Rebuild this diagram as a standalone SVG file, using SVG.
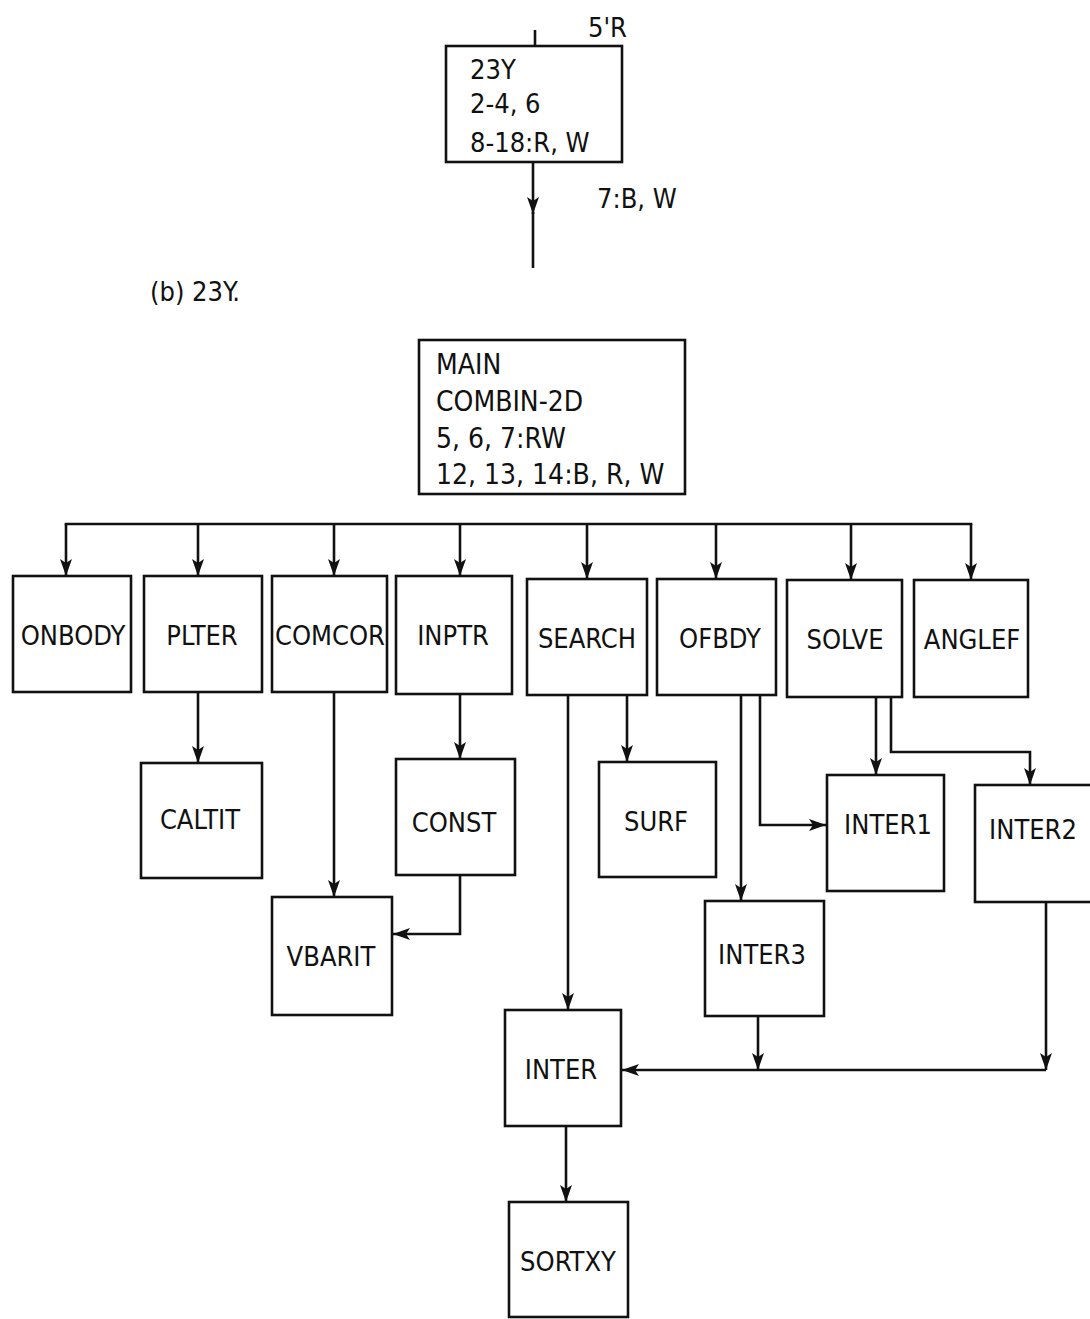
<svg xmlns="http://www.w3.org/2000/svg" width="1090" height="1319" viewBox="0 0 1090 1319">
<style>
text{font-family:"Liberation Sans Narrow","DejaVu Sans Condensed","Liberation Sans",sans-serif;font-size:27px;fill:#111}
.n rect{fill:#fff;stroke:#111;stroke-width:2.6}
.n text{text-anchor:middle}
.n text.l{text-anchor:start}
#connectors path,#connectors line{fill:none;stroke:#111;stroke-width:2.6}
</style>
<defs>
<marker id="a" markerUnits="userSpaceOnUse" markerWidth="18" markerHeight="12" refX="17" refY="6" orient="auto">
<path d="M0,0 L17,6 L0,12 L4,6 z" fill="#111"/>
</marker>
</defs>
<rect width="1090" height="1319" fill="#fff"/>

<g id="connectors">
<line x1="535" y1="30" x2="535" y2="46"/>
<line x1="533" y1="162" x2="533" y2="214" marker-end="url(#a)"/>
<line x1="533" y1="212" x2="533" y2="268"/>
<line x1="64.7" y1="524" x2="972.3" y2="524"/>
<line x1="66" y1="524" x2="66" y2="576" marker-end="url(#a)"/>
<line x1="198" y1="524" x2="198" y2="576" marker-end="url(#a)"/>
<line x1="334" y1="524" x2="334" y2="576" marker-end="url(#a)"/>
<line x1="460" y1="524" x2="460" y2="576" marker-end="url(#a)"/>
<line x1="587" y1="524" x2="587" y2="579" marker-end="url(#a)"/>
<line x1="716" y1="524" x2="716" y2="579" marker-end="url(#a)"/>
<line x1="851" y1="524" x2="851" y2="580" marker-end="url(#a)"/>
<line x1="971" y1="524" x2="971" y2="580" marker-end="url(#a)"/>
<line x1="198" y1="692" x2="198" y2="763" marker-end="url(#a)"/>
<line x1="334" y1="692" x2="334" y2="897" marker-end="url(#a)"/>
<line x1="460" y1="694" x2="460" y2="759" marker-end="url(#a)"/>
<path d="M460,875 V934 H393" marker-end="url(#a)"/>
<line x1="568" y1="695" x2="568" y2="1010" marker-end="url(#a)"/>
<line x1="627" y1="695" x2="627" y2="762" marker-end="url(#a)"/>
<line x1="741" y1="695" x2="741" y2="901" marker-end="url(#a)"/>
<path d="M760,695 V825 H826" marker-end="url(#a)"/>
<line x1="876" y1="697" x2="876" y2="775" marker-end="url(#a)"/>
<path d="M891,697 V752 H1030 V785" marker-end="url(#a)"/>
<line x1="1046" y1="902" x2="1046" y2="1070" marker-end="url(#a)"/>
<path d="M1046,1070 H622" marker-end="url(#a)"/>
<line x1="758" y1="1016" x2="758" y2="1070" marker-end="url(#a)"/>
<line x1="566" y1="1126" x2="566" y2="1202" marker-end="url(#a)"/>
</g>

<g id="n23Y" class="n">
<rect x="446" y="46" width="176" height="116"/>
<text x="470" y="79" class="l">23Y</text>
<text x="470" y="113" class="l">2-4, 6</text>
<text x="470" y="152" class="l">8-18:R, W</text>
</g>
<text x="588" y="37">5'R</text>
<text x="597" y="208">7:B, W</text>
<text x="150" y="301">(b) 23Y.</text>

<g id="main" class="n">
<rect x="419" y="340" width="266" height="154"/>
<text x="436" y="374" class="l" style="font-size:28px">MAIN</text>
<text x="436" y="411" class="l" style="font-size:28px">COMBIN-2D</text>
<text x="436" y="448" class="l" style="font-size:28px">5, 6, 7:RW</text>
<text x="436" y="484" class="l" style="font-size:28px">12, 13, 14:B, R, W</text>
</g>

<g id="onbody" class="n"><rect x="13" y="576" width="118" height="116"/><text x="73" y="645">ONBODY</text></g>
<g id="plter" class="n"><rect x="144" y="576" width="118" height="116"/><text x="202" y="645">PLTER</text></g>
<g id="comcor" class="n"><rect x="272" y="576" width="115" height="116"/><text x="330" y="645">COMCOR</text></g>
<g id="inptr" class="n"><rect x="396" y="576" width="116" height="118"/><text x="453" y="645">INPTR</text></g>
<g id="search" class="n"><rect x="527" y="579" width="120" height="116"/><text x="587" y="648">SEARCH</text></g>
<g id="ofbdy" class="n"><rect x="657" y="579" width="119" height="116"/><text x="720" y="648">OFBDY</text></g>
<g id="solve" class="n"><rect x="787" y="580" width="115" height="117"/><text x="845" y="649">SOLVE</text></g>
<g id="anglef" class="n"><rect x="914" y="580" width="114" height="117"/><text x="972" y="649">ANGLEF</text></g>

<g id="caltit" class="n"><rect x="141" y="763" width="121" height="115"/><text x="200" y="829">CALTIT</text></g>
<g id="const" class="n"><rect x="396" y="759" width="119" height="116"/><text x="454" y="832">CONST</text></g>
<g id="surf" class="n"><rect x="599" y="762" width="117" height="115"/><text x="656" y="831">SURF</text></g>
<g id="inter1" class="n"><rect x="827" y="775" width="117" height="116"/><text x="888" y="834">INTER1</text></g>
<g id="inter2" class="n"><rect x="975" y="785" width="120" height="117"/><text x="1033" y="839">INTER2</text></g>
<g id="vbarit" class="n"><rect x="272" y="897" width="120" height="118"/><text x="331" y="966">VBARIT</text></g>
<g id="inter3" class="n"><rect x="705" y="901" width="119" height="115"/><text x="762" y="964">INTER3</text></g>
<g id="inter" class="n"><rect x="505" y="1010" width="116" height="116"/><text x="561" y="1079">INTER</text></g>
<g id="sortxy" class="n"><rect x="509" y="1202" width="119" height="115"/><text x="568" y="1271">SORTXY</text></g>
</svg>
